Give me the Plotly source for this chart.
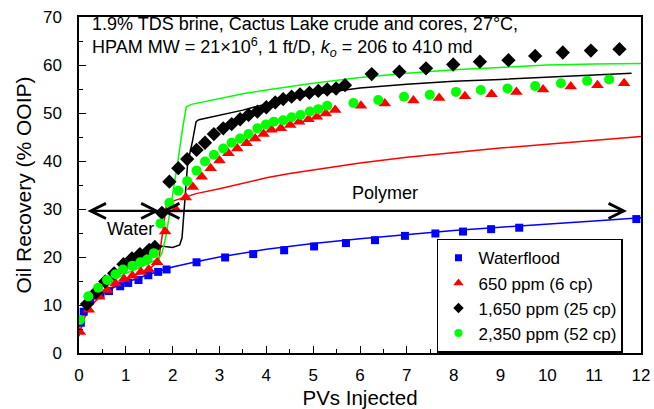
import plotly.graph_objects as go

# Waterflood (measured points)
wf_pv = [0.04, 0.10, 0.24, 0.46, 0.64, 0.88, 1.05, 1.27, 1.48, 1.69, 1.87, 2.51, 3.12, 3.72,
         4.38, 5.02, 5.70, 6.32, 6.96, 7.61, 8.20, 8.80, 9.40, 11.90]
wf_rec = [6.3, 8.6, 11.0, 12.1, 12.9, 13.9, 14.6, 15.2, 16.2, 16.9, 17.4, 18.9, 19.9, 20.6,
          21.4, 22.2, 22.9, 23.5, 24.4, 24.9, 25.3, 25.8, 26.1, 27.9]
# Waterflood (curve)
wf_line_pv = [0, 0.1, 0.25, 0.5, 0.75, 1.0, 1.5, 2.0, 2.5, 3, 4, 5, 6, 7, 8, 9, 10, 11, 12]
wf_line_rec = [5.5, 8.8, 10.8, 12.4, 13.7, 14.7, 16.4, 17.9, 19.0, 20.0, 21.6, 22.8, 23.8,
               24.7, 25.5, 26.2, 26.8, 27.5, 28.2]

# 650 ppm (6 cp)
p650_pv = [0.02, 0.21, 0.43, 0.60, 0.78, 0.96, 1.14, 1.32, 1.49, 1.67, 1.84, 2.07, 2.28, 2.43,
           2.62, 2.81, 3.00, 3.19, 3.38, 3.58, 3.76, 3.94, 4.11, 4.31, 4.51, 4.70, 4.90, 5.08,
           5.27, 5.47, 6.02, 6.53, 7.14, 7.69, 8.24, 8.81, 9.34, 9.91, 10.50, 11.07, 11.64]
p650_rec = [4.4, 9.0, 11.7, 13.1, 14.5, 15.4, 16.1, 16.9, 17.4, 18.9, 25.3, 29.9, 32.4, 34.6,
            36.7, 38.5, 40.1, 41.6, 42.6, 43.7, 44.7, 45.6, 46.5, 46.8, 47.5, 48.2, 48.7, 49.2,
            49.9, 50.6, 51.5, 52.0, 52.6, 53.1, 53.5, 53.9, 54.4, 54.9, 55.5, 55.8, 56.2]
p650_line_pv = [0, 0.1, 0.25, 0.5, 0.75, 1.0, 1.25, 1.5, 1.7, 1.77, 1.87, 2.05, 2.3, 2.5, 3.0,
                3.5, 4.0, 4.5, 5.0, 5.5, 6.0, 7.0, 8.0, 9.0, 10.0, 11.0, 12.0]
p650_line_rec = [3.5, 7.0, 9.8, 12.2, 14.0, 15.3, 16.4, 17.5, 19.2, 24.5, 31.0, 31.8, 32.6,
                 33.2, 34.2, 35.4, 36.5, 37.4, 38.1, 38.8, 39.6, 40.8, 41.8, 42.7, 43.5, 44.3,
                 45.1]

# 1,650 ppm (25 cp)
p1650_pv = [0.17, 0.36, 0.56, 0.75, 0.95, 1.13, 1.30, 1.50, 1.62, 1.77, 1.93, 2.12, 2.31, 2.51,
            2.69, 2.88, 3.08, 3.26, 3.44, 3.62, 3.81, 4.00, 4.19, 4.36, 4.54, 4.72, 4.92, 5.11,
            5.30, 5.49, 5.68, 6.25, 6.84, 7.41, 7.99, 8.56, 9.17, 9.74, 10.33, 10.93, 11.54]
p1650_rec = [10.2, 12.6, 14.9, 16.6, 18.5, 19.7, 20.6, 21.5, 22.1, 29.2, 35.7, 38.5, 40.4, 42.3,
             43.8, 45.6, 46.8, 47.7, 48.7, 49.6, 50.3, 51.2, 52.2, 52.9, 53.4, 53.9, 54.2, 54.6,
             54.9, 55.1, 55.8, 58.1, 58.6, 59.3, 60.1, 60.7, 61.0, 61.9, 62.6, 63.0, 63.3]
p1650_line_pv = [0, 0.1, 0.25, 0.5, 0.75, 1.0, 1.25, 1.5, 1.65, 1.75, 2.0, 2.15, 2.2, 2.25, 2.32,
                 2.42, 2.5, 2.56, 3.0, 3.5, 4.0, 4.5, 5.0, 5.5, 6.0, 7.0, 8.0, 9.0, 10.0, 11.0,
                 11.8]
p1650_line_rec = [6.5, 8.5, 11.0, 13.8, 15.8, 17.5, 19.0, 20.5, 21.6, 22.3, 22.0, 22.5, 24.0,
                  31.0, 39.5, 44.0, 48.2, 48.6, 49.5, 50.6, 51.9, 53.0, 53.9, 54.6, 55.2, 56.0,
                  56.6, 57.0, 57.5, 57.9, 58.3]

# 2,350 ppm (52 cp)
p2350_pv = [0.02, 0.20, 0.41, 0.60, 0.78, 0.94, 1.14, 1.31, 1.46, 1.60, 1.74, 1.93, 2.12, 2.31,
            2.51, 2.69, 2.88, 3.08, 3.26, 3.44, 3.62, 3.81, 3.99, 4.16, 4.36, 4.54, 4.73, 4.93,
            5.11, 5.30, 5.86, 6.39, 6.94, 7.49, 8.05, 8.58, 9.15, 9.74, 10.29, 10.85, 11.32]
p2350_rec = [6.9, 11.8, 13.6, 15.2, 16.4, 17.4, 18.2, 18.9, 19.5, 20.8, 27.0, 31.3, 33.8, 35.8,
             38.0, 39.9, 41.3, 42.6, 43.8, 44.7, 45.6, 46.8, 47.6, 48.2, 48.5, 49.1, 49.6, 50.3,
             50.8, 51.5, 52.1, 52.7, 53.4, 53.8, 54.4, 54.8, 55.1, 55.6, 56.2, 56.7, 57.0]
p2350_line_pv = [0, 0.1, 0.25, 0.5, 0.75, 1.0, 1.25, 1.5, 1.7, 1.77, 1.85, 1.95, 2.05, 2.12,
                 2.2, 2.29, 2.4, 3.0, 3.5, 4.0, 5.0, 6.0, 7.0, 8.0, 9.0, 10.0, 11.0, 12.0]
p2350_line_rec = [6.0, 9.0, 11.3, 13.7, 15.3, 16.6, 17.6, 18.7, 19.6, 20.8, 24.0, 30.0, 36.0,
                  40.5, 46.0, 51.3, 51.8, 53.0, 54.0, 54.8, 56.2, 57.4, 58.3, 59.0, 59.5, 60.0,
                  60.2, 60.3]

series_names = ["Waterflood", "650 ppm (6 cp)", "1,650 ppm (25 cp)", "2,350 ppm (52 cp)"]

BLUE, RED, BLACK, GREEN = "#0000ff", "#ff0000", "#000000", "#00ff00"
FONT = "Liberation Sans, Arial, sans-serif"

fig = go.Figure()

# model curves
for xs, ys, col in [(wf_line_pv, wf_line_rec, BLUE), (p650_line_pv, p650_line_rec, RED),
                    (p1650_line_pv, p1650_line_rec, BLACK),
                    (p2350_line_pv, p2350_line_rec, GREEN)]:
    fig.add_trace(go.Scatter(x=xs, y=ys, mode="lines", showlegend=False, hoverinfo="skip",
                             line=dict(color=col, width=1.5)))

# measured points (plot markers) and compact legend keys
point_sets = [(wf_pv, wf_rec, "square", 8, 7, BLUE),
              (p650_pv, p650_rec, "triangle-up", 11, 9, RED),
              (p1650_pv, p1650_rec, "diamond", 11, 8, BLACK),
              (p2350_pv, p2350_rec, "circle", 10, 8, GREEN)]
for name, (xs, ys, sym, size, key_size, col) in zip(series_names, point_sets):
    fig.add_trace(go.Scatter(x=xs, y=ys, mode="markers", name=name, showlegend=False,
                             legendgroup=name,
                             marker=dict(symbol=sym, size=size, color=col)))
    fig.add_trace(go.Scatter(x=[None], y=[None], mode="markers", name=name,
                             legendgroup=name,
                             marker=dict(symbol=sym, size=key_size, color=col)))

# injection-stage arrows
arrow_y = 29.6
for x0, x1 in [(0.15, 1.72), (1.72, 11.7)]:
    fig.add_annotation(x=x1, y=arrow_y, ax=x0, ay=arrow_y, xref="x", yref="y",
                       axref="x", ayref="y", text="", showarrow=True,
                       arrowhead=5, arrowside="end+start", arrowsize=1.35,
                       arrowwidth=2.2, arrowcolor=BLACK)
fig.add_annotation(x=1.09, y=25.8, xref="x", yref="y", text="Water", showarrow=False,
                   font=dict(size=18, color=BLACK, family=FONT))
fig.add_annotation(x=6.53, y=33.3, xref="x", yref="y", text="Polymer", showarrow=False,
                   font=dict(size=18, color=BLACK, family=FONT))

fig.add_annotation(x=0.02, y=1.015, xref="paper", yref="paper", xanchor="left", yanchor="top",
                   align="left", showarrow=False,
                   text="1.9% TDS brine, Cactus Lake crude and cores, 27°C,<br>"
                        "HPAM MW = 21×10<sup>6</sup>, 1 ft/D, <i>k<sub>o</sub></i> = 206 to 410 md",
                   font=dict(size=18, color=BLACK, family=FONT))

axis_common = dict(showline=True, linecolor=BLACK, linewidth=1.5, mirror=True,
                   showgrid=False, zeroline=False, ticks="inside", ticklen=7, tickwidth=1.2,
                   tickcolor=BLACK, tickfont=dict(size=17, color=BLACK, family=FONT),
                   automargin=False)

fig.update_xaxes(range=[0, 12], dtick=1, tick0=0,
                 minor=dict(dtick=0.5, ticks="inside", ticklen=4, tickcolor=BLACK),
                 title=dict(text="PVs Injected", font=dict(size=20.5, color=BLACK, family=FONT),
                            standoff=7),
                 ticklabelstandoff=6, **axis_common)
fig.update_yaxes(range=[0, 70], dtick=10, tick0=0,
                 minor=dict(dtick=5, ticks="inside", ticklen=4, tickcolor=BLACK),
                 title=dict(text="Oil Recovery (% OOIP)",
                            font=dict(size=21, color=BLACK, family=FONT), standoff=6),
                 ticklabelstandoff=12, **axis_common)

fig.update_layout(
    width=654, height=409,
    margin=dict(l=79, r=13, t=17, b=56),
    plot_bgcolor="white", paper_bgcolor="white",
    font=dict(family=FONT, color=BLACK),
    legend=dict(x=0.637, y=0.34, xanchor="left", yanchor="top",
                bordercolor=BLACK, borderwidth=1.5, bgcolor="white",
                font=dict(size=17, color=BLACK, family=FONT),
                tracegroupgap=0, itemwidth=30),
)

fig.write_html("out.html")
